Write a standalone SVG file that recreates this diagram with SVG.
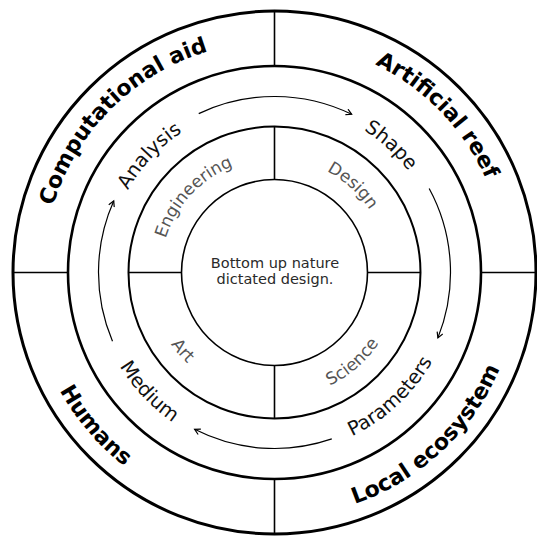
<svg xmlns="http://www.w3.org/2000/svg" width="537" height="536" viewBox="0 0 537 536">
<style>
.ring{fill:none;stroke:#000}
.div{stroke:#000;stroke-width:1.6}
.arr{fill:none;stroke:#000;stroke-width:1.2;marker-end:url(#ah)}
.outer{font-family:"DejaVu Sans",sans-serif;font-weight:bold;font-size:22px;fill:#000}
.mid{font-family:"DejaVu Sans",sans-serif;font-size:19.5px;fill:#111}
.inner{font-family:"DejaVu Sans",sans-serif;font-size:17px;fill:#555}
.center{font-family:"DejaVu Sans",sans-serif;font-size:14.5px;fill:#2a2a2a}
</style>
<defs>
<marker id="ah" markerUnits="userSpaceOnUse" markerWidth="10" markerHeight="10" refX="6" refY="3.5" orient="auto">
<path d="M0.5,0.5 L6,3.5 L0.5,6.5" fill="none" stroke="#000" stroke-width="1.2"/>
</marker>
<path id="p1" d="M51.37,332.29 A231,231 0 0 1 334.29,49.37"/>
<path id="p2" d="M218.62,48.36 A231,231 0 0 1 496.55,336.17"/>
<path id="p3" d="M202.87,506.79 A245,245 0 0 0 513.22,217.39"/>
<path id="p4" d="M43.55,190.72 A245,245 0 0 0 319.15,513.40"/>
<path id="p5" d="M113.84,321.62 A168,168 0 0 1 312.29,108.81"/>
<path id="p6" d="M223.98,112.28 A168,168 0 0 1 438.52,308.86"/>
<path id="p7" d="M221.58,445.59 A181,181 0 0 0 450.86,231.78"/>
<path id="p8" d="M100.95,221.09 A181,181 0 0 0 316.75,448.50"/>
<path id="p9" d="M165.48,305.83 A114,114 0 0 1 300.14,161.42"/>
<path id="p10" d="M239.27,164.08 A114,114 0 0 1 386.01,296.20"/>
<path id="p11" d="M233.48,391.64 A126,126 0 0 0 398.19,248.46"/>
<path id="p12" d="M155.73,230.44 A126,126 0 0 0 297.46,396.39"/>
</defs>
<g id="rings">
<circle class="ring" cx="274.5" cy="272.5" r="261.5" stroke-width="3"/>
<circle class="ring" cx="274.5" cy="272.5" r="206.5" stroke-width="2.6"/>
<circle class="ring" cx="274.5" cy="272.5" r="146" stroke-width="2"/>
<circle class="ring" cx="274.5" cy="272.5" r="93" stroke-width="1.6"/>
<line class="div" x1="274.5" y1="11" x2="274.5" y2="66"/>
<line class="div" x1="274.5" y1="479" x2="274.5" y2="534"/>
<line class="div" x1="13" y1="272.5" x2="68" y2="272.5"/>
<line class="div" x1="481" y1="272.5" x2="536" y2="272.5"/>
<line class="div" x1="274.5" y1="126.5" x2="274.5" y2="179.5"/>
<line class="div" x1="274.5" y1="365.5" x2="274.5" y2="418.5"/>
<line class="div" x1="128.5" y1="272.5" x2="181.5" y2="272.5"/>
<line class="div" x1="367.5" y1="272.5" x2="420.5" y2="272.5"/>
</g>
<g id="connectors">
<path class="arr" d="M198.73,113.64 A176,176 0 0 1 351.65,114.31"/>
<path class="arr" d="M429.17,188.52 A176,176 0 0 1 437.91,337.86"/>
<path class="arr" d="M331.80,438.91 A176,176 0 0 1 194.60,429.32"/>
<path class="arr" d="M112.49,341.27 A176,176 0 0 1 113.72,200.91"/>
</g>
<g id="node-computational-aid"><text class="outer" text-anchor="middle"><textPath href="#p1" startOffset="50%">Computational aid</textPath></text></g>
<g id="node-artificial-reef"><text class="outer" text-anchor="middle"><textPath href="#p2" startOffset="50%">Artificial reef</textPath></text></g>
<g id="node-local-ecosystem"><text class="outer" text-anchor="middle"><textPath href="#p3" startOffset="50%">Local ecosystem</textPath></text></g>
<g id="node-humans"><text class="outer" text-anchor="middle"><textPath href="#p4" startOffset="50%">Humans</textPath></text></g>
<g id="node-analysis"><text class="mid" text-anchor="middle"><textPath href="#p5" startOffset="50%">Analysis</textPath></text></g>
<g id="node-shape"><text class="mid" text-anchor="middle"><textPath href="#p6" startOffset="50%">Shape</textPath></text></g>
<g id="node-parameters"><text class="mid" text-anchor="middle"><textPath href="#p7" startOffset="50%">Parameters</textPath></text></g>
<g id="node-medium"><text class="mid" text-anchor="middle"><textPath href="#p8" startOffset="50%">Medium</textPath></text></g>
<g id="node-engineering"><text class="inner" text-anchor="middle"><textPath href="#p9" startOffset="50%">Engineering</textPath></text></g>
<g id="node-design"><text class="inner" text-anchor="middle"><textPath href="#p10" startOffset="50%">Design</textPath></text></g>
<g id="node-science"><text class="inner" text-anchor="middle"><textPath href="#p11" startOffset="50%">Science</textPath></text></g>
<g id="node-art"><text class="inner" text-anchor="middle"><textPath href="#p12" startOffset="50%">Art</textPath></text></g>
<g id="node-center"><text class="center" text-anchor="middle" x="275" y="268">Bottom up nature</text><text class="center" text-anchor="middle" x="275" y="283.5">dictated design.</text></g>
</svg>
